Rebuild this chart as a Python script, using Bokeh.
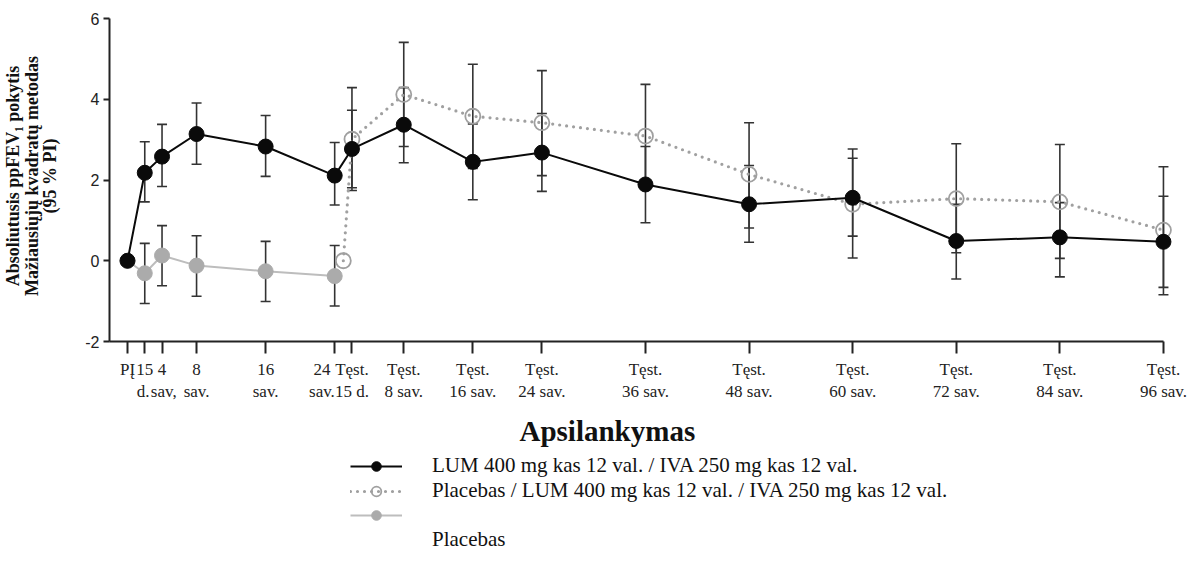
from bokeh.plotting import figure
from bokeh.layouts import column
from bokeh.models import (ColumnDataSource, Whisker, TeeHead, FixedTicker, Legend,
                          LegendItem, Range1d, Title)
from bokeh.embed import file_html
from bokeh.resources import INLINE

# ---------------- data ----------------
weeks = [0, 2, 4, 8, 16, 24, 26, 32, 40, 48, 60, 72, 84, 96, 108, 120]
tick_labels = ["PĮ", "15\nd.\u2009", "4\n\u2009sav,", "8\nsav.", "16\nsav.",
               "24\u2002\u2002\u2002\nsav.\u2002\u2002\u2002",
               "Tęst.\n15 d.", "Tęst.\n8 sav.", "Tęst.\n16 sav.", "Tęst.\n24 sav.",
               "Tęst.\n36 sav.", "Tęst.\n48 sav.", "Tęst.\n60 sav.", "Tęst.\n72 sav.",
               "Tęst.\n84 sav.", "Tęst.\n96 sav."]
y_ticks = [-2, 0, 2, 4, 6]
y_tick_labels = ["-2", "0", "2", "4", "6"]

# LUM 400 mg / IVA 250 mg (solid black)
lum_x = [0, 2, 4, 8, 16, 24, 26, 32, 40, 48, 60, 72, 84, 96, 108, 120]
lum_y = [0.00, 2.18, 2.58, 3.14, 2.83, 2.11, 2.77, 3.37, 2.45, 2.68, 1.89, 1.40, 1.56, 0.49, 0.58, 0.47]
lum_ci_x = [2, 4, 8, 16, 24, 26, 32, 40, 48, 60, 72, 84, 96, 108, 120]
lum_lo = [1.46, 1.84, 2.39, 2.09, 1.38, 1.81, 2.43, 1.51, 1.72, 0.94, 0.46, 0.61, -0.45, -0.40, -0.66]
lum_hi = [2.95, 3.38, 3.91, 3.60, 2.93, 3.73, 4.29, 3.39, 3.65, 2.83, 2.36, 2.54, 1.40, 1.44, 1.60]

# Placebas / LUM / IVA extension (dotted, open circles)
ext_x = [25, 26, 32, 40, 48, 60, 72, 84, 96, 108, 120]
ext_y = [0.00, 3.01, 4.12, 3.58, 3.42, 3.09, 2.14, 1.40, 1.54, 1.46, 0.76]
ext_ci_x = [26, 32, 40, 48, 60, 72, 84, 96, 108, 120]
ext_lo = [1.74, 2.83, 2.29, 2.11, 1.81, 0.81, 0.07, 0.20, 0.06, -0.84]
ext_hi = [4.29, 5.41, 4.87, 4.71, 4.37, 3.42, 2.77, 2.90, 2.88, 2.33]

# Placebas (grey)
pla_x = [0, 2, 4, 8, 16, 24]
pla_y = [0.00, -0.31, 0.13, -0.12, -0.26, -0.38]
pla_ci_x = [2, 4, 8, 16, 24]
pla_lo = [-1.06, -0.62, -0.88, -1.01, -1.12]
pla_hi = [0.43, 0.87, 0.62, 0.48, 0.38]

x_title = "Apsilankymas"
y_title = "Absoliutusis ppFEV\u2081 pokytis\nMažiausiųjų kvadratų metodas\n(95 % PI)"
legend_labels = ["LUM 400 mg kas 12 val. / IVA 250 mg kas 12 val.",
                 "Placebas / LUM 400 mg kas 12 val. / IVA 250 mg kas 12 val.",
                 " ",
                 "Placebas"]

# ---------------- styles ----------------
BLACK = "#0a0a0a"
ERR = "#333333"
GREY_M = "#ababab"
GREY_L = "#bdbdbd"
OPEN = "#a0a0a0"
AX = "#222222"
SERIF = "Liberation Serif"
SANS = "Liberation Sans"
MS = 15

p = figure(width=1188, height=454, output_backend="svg", toolbar_location=None,
           x_range=Range1d(-2.085, 121.28), y_range=Range1d(-2, 6.2),
           min_border_left=109, min_border_right=14, min_border_top=10,
           min_border_bottom=110)
p.grid.visible = False
p.outline_line_color = None
p.background_fill_color = "white"
p.border_fill_color = "white"

def add_whisker(xs, lo, hi):
    src = ColumnDataSource(dict(x=xs, lo=lo, hi=hi))
    w = Whisker(source=src, base="x", lower="lo", upper="hi",
                line_color=ERR, line_width=1.6,
                upper_head=TeeHead(size=10, line_color=ERR, line_width=1.6),
                lower_head=TeeHead(size=10, line_color=ERR, line_width=1.6))
    p.add_layout(w)

add_whisker(pla_ci_x, pla_lo, pla_hi)
add_whisker(ext_ci_x, ext_lo, ext_hi)
add_whisker(lum_ci_x, lum_lo, lum_hi)

pla_src = ColumnDataSource(dict(x=pla_x, y=pla_y))
ext_src = ColumnDataSource(dict(x=ext_x, y=ext_y))
lum_src = ColumnDataSource(dict(x=lum_x, y=lum_y))
SRC = {"lum": lum_src, "ext": ext_src, "pla": pla_src}

LINE_STYLES = {
    "lum": dict(line_color=BLACK, line_width=2),
    "ext": dict(line_color=OPEN, line_width=3.2, line_dash="0 7", line_cap="round"),
    "pla": dict(line_color=GREY_L, line_width=2),
}
MARK_STYLES = {
    "lum": dict(fill_color=BLACK, line_color=BLACK),
    "ext": dict(fill_color=None, line_color=OPEN, line_width=1.8),
    "pla": dict(fill_color=GREY_M, line_color=GREY_M),
}

for kind in ["pla", "ext", "lum"]:
    p.line("x", "y", source=SRC[kind], **LINE_STYLES[kind])
    p.scatter("x", "y", source=SRC[kind], size=MS, marker="circle", **MARK_STYLES[kind])

# ---------------- axes ----------------
xa = p.xaxis[0]
xa.ticker = FixedTicker(ticks=weeks)
xa.major_label_overrides = {w: lab for w, lab in zip(weeks, tick_labels)}
xa.bounds = (-2.085, 120)
xa.major_label_text_font = SERIF
xa.major_label_text_font_size = "17px"
xa.major_label_text_color = AX
xa.major_label_standoff = 6
xa.major_tick_out = 12
xa.major_tick_in = 0
xa.minor_tick_line_color = None
xa.axis_line_width = 2
xa.axis_line_color = AX
xa.major_tick_line_width = 2
xa.major_tick_line_color = AX

ya = p.yaxis[0]
ya.ticker = FixedTicker(ticks=y_ticks)
ya.major_label_overrides = {t: lab for t, lab in zip(y_ticks, y_tick_labels)}
ya.bounds = (-2, 6)
ya.major_label_text_font = SANS
ya.major_label_text_font_size = "16px"
ya.major_label_text_color = AX
ya.major_label_standoff = 4
ya.major_tick_out = 6
ya.major_tick_in = 0
ya.minor_tick_line_color = None
ya.axis_line_width = 2
ya.axis_line_color = AX
ya.major_tick_line_width = 2
ya.major_tick_line_color = AX
ya.axis_label = y_title
ya.axis_label_text_font = SERIF
ya.axis_label_text_font_style = "bold"
ya.axis_label_text_font_size = "18px"
ya.axis_label_text_line_height = 0.92
ya.axis_label_text_color = "#111111"
ya.axis_label_standoff = 22

xt = Title(text=x_title, align="left", offset=410, standoff=16,
           text_font=SERIF, text_font_style="bold", text_font_size="29px",
           text_color="#111111")
p.add_layout(xt, "below")

# ---------------- legend (separate strip below) ----------------
lg = figure(width=1188, height=98, output_backend="svg", toolbar_location=None,
            x_axis_location=None, y_axis_location=None,
            min_border_left=0, min_border_right=0, min_border_top=0, min_border_bottom=0)
lg.grid.visible = False
lg.outline_line_color = None

def key(kind):
    l = lg.line("x", "y", source=SRC[kind], visible=False, **LINE_STYLES[kind])
    m = lg.scatter("x", "y", source=SRC[kind], size=MS, marker="circle", visible=False,
                   **MARK_STYLES[kind])
    return [l, m]

blank = lg.line("x", "y", source=pla_src, line_alpha=0, visible=False)

legend = Legend(items=[
    LegendItem(label=legend_labels[0], renderers=key("lum")),
    LegendItem(label=legend_labels[1], renderers=key("ext")),
    LegendItem(label=legend_labels[2], renderers=key("pla")),
    LegendItem(label=legend_labels[3], renderers=[blank]),
], location=(241, 0), orientation="vertical",
    label_text_font=SERIF, label_text_font_size="21px", label_text_color="#111111",
    label_height=24, glyph_height=24, glyph_width=52, spacing=0,
    label_standoff=30, padding=0, margin=0,
    border_line_alpha=0, background_fill_alpha=0)
lg.add_layout(legend, "center")

layout = column(p, lg, spacing=0)
open("out.html", "w").write(file_html(layout, INLINE))
